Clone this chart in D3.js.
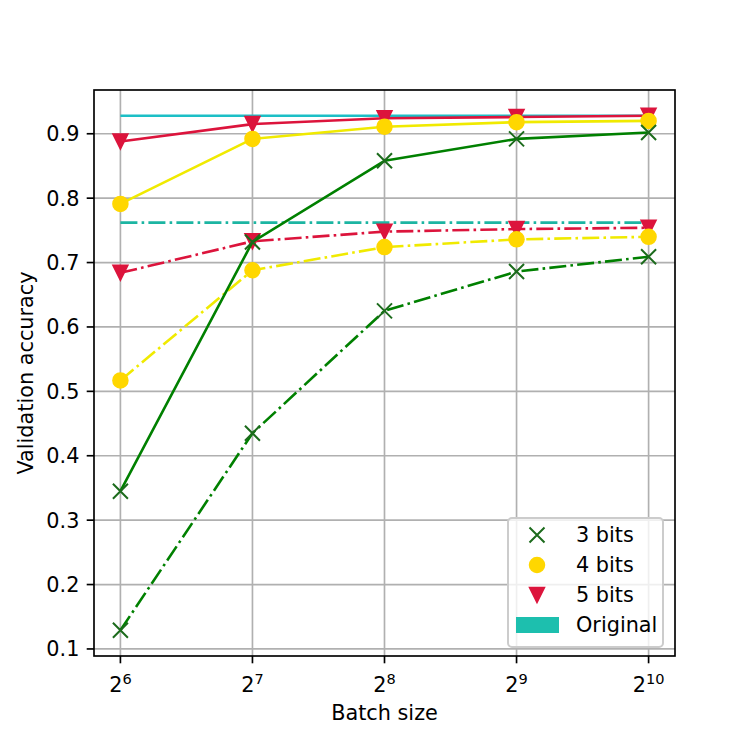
<!DOCTYPE html>
<html>
<head>
<meta charset="utf-8">
<script src="https://cdn.jsdelivr.net/npm/d3@7"></script>
<style>
  body { margin: 0; background: #fff; }
  svg { font-family: "DejaVu Sans", sans-serif; }
</style>
</head>
<body>
<svg id="chart" width="750" height="750"></svg>
<script>
// batch sizes as powers of two
const batchExp = [6, 7, 8, 9, 10];
const batchSizes = batchExp.map(e => Math.pow(2, e));

// validation accuracy, solid = first run, dash-dot = second run
const acc3Solid = [0.345, 0.732, 0.858, 0.892, 0.902];
const acc3Dash = [0.129, 0.435, 0.625, 0.686, 0.709];
const acc4Solid = [0.791, 0.892, 0.911, 0.918, 0.920];
const acc4Dash = [0.517, 0.688, 0.724, 0.736, 0.740];
const acc5Solid = [0.888, 0.915, 0.924, 0.926, 0.928];
const acc5Dash = [0.684, 0.733, 0.748, 0.752, 0.754];
const originalSolid = [0.928, 0.928];
const originalDash = [0.762, 0.762];
const originalX = [64, 1024];

const yTicks = [0.1, 0.2, 0.3, 0.4, 0.5, 0.6, 0.7, 0.8, 0.9];
const legendLabels = ['3 bits', '4 bits', '5 bits', 'Original'];

const margin = { left: 94, right: 675, top: 90, bottom: 656 };
const fs = 20.8;
const lw = 2.6;
const dashDot = '17,4.2,2.6,4.2';

const svg = d3.select('#chart');

// matplotlib style 5% margins
function padded(lo, hi) {
    const p = (hi - lo) * 0.05;
    return [lo - p, hi + p];
}
const allY = [].concat(acc3Solid, acc3Dash, acc4Solid, acc4Dash, acc5Solid, acc5Dash, originalSolid, originalDash);
const yDom = padded(d3.min(allY), d3.max(allY));
const xDomExp = padded(6, 10);

const x = d3.scaleLog().base(2)
    .domain([Math.pow(2, xDomExp[0]), Math.pow(2, xDomExp[1])])
    .range([margin.left, margin.right]);
const y = d3.scaleLinear().domain(yDom).range([margin.bottom, margin.top]);

// grid
const grid = svg.append('g');
grid.selectAll('line.gx').data(batchSizes).join('line')
    .attr('x1', d => x(d)).attr('x2', d => x(d))
    .attr('y1', margin.top).attr('y2', margin.bottom)
    .attr('stroke', '#b0b0b0').attr('stroke-width', 1.67);
grid.selectAll('line.gy').data(yTicks).join('line')
    .attr('y1', d => y(d)).attr('y2', d => y(d))
    .attr('x1', margin.left).attr('x2', margin.right)
    .attr('stroke', '#b0b0b0').attr('stroke-width', 1.67);

// series, drawn in the original plotting order
const series = [
    { xs: originalX, ys: originalSolid, color: '#1cbfc6', dash: null, marker: null },
    { xs: originalX, ys: originalDash, color: '#1cb5a2', dash: dashDot, marker: null },
    { xs: batchSizes, ys: acc5Solid, color: 'crimson', dash: null, marker: 'tri', mcolor: 'crimson' },
    { xs: batchSizes, ys: acc5Dash, color: 'crimson', dash: dashDot, marker: 'tri', mcolor: 'crimson' },
    { xs: batchSizes, ys: acc4Solid, color: '#f0ea00', dash: null, marker: 'circle', mcolor: 'gold' },
    { xs: batchSizes, ys: acc4Dash, color: '#f0ea00', dash: dashDot, marker: 'circle', mcolor: 'gold' },
    { xs: batchSizes, ys: acc3Solid, color: 'green', dash: null, marker: 'x', mcolor: '#1c6b1c' },
    { xs: batchSizes, ys: acc3Dash, color: 'green', dash: dashDot, marker: 'x', mcolor: '#1c6b1c' }
];

const line = d3.line().x(d => x(d[0])).y(d => y(d[1]));

function drawMarker(g, type, cx, cy, color) {
    const r = 7.5;
    if (type === 'x') {
        g.append('path')
            .attr('d', `M${cx - r},${cy - r}L${cx + r},${cy + r}M${cx - r},${cy + r}L${cx + r},${cy - r}`)
            .attr('stroke', color).attr('stroke-width', 2).attr('fill', 'none');
    } else if (type === 'circle') {
        g.append('circle').attr('cx', cx).attr('cy', cy).attr('r', r)
            .attr('fill', color).attr('stroke', color).attr('stroke-width', 1.5);
    } else if (type === 'tri') {
        g.append('path')
            .attr('d', `M${cx - r},${cy - r}L${cx + r},${cy - r}L${cx},${cy + r}Z`)
            .attr('fill', color).attr('stroke', color).attr('stroke-width', 1.5)
            .attr('stroke-linejoin', 'miter');
    }
}

const plot = svg.append('g');
series.forEach(s => {
    const pts = s.xs.map((v, i) => [v, s.ys[i]]);
    plot.append('path')
        .attr('d', line(pts))
        .attr('fill', 'none')
        .attr('stroke', s.color)
        .attr('stroke-width', lw)
        .attr('stroke-dasharray', s.dash)
        .attr('stroke-linejoin', 'round');
    if (s.marker) {
        const mg = plot.append('g');
        pts.forEach(p => drawMarker(mg, s.marker, x(p[0]), y(p[1]), s.mcolor));
    }
});

// spines
svg.append('rect')
    .attr('x', margin.left).attr('y', margin.top)
    .attr('width', margin.right - margin.left).attr('height', margin.bottom - margin.top)
    .attr('fill', 'none').attr('stroke', '#000').attr('stroke-width', 1.67);

// x ticks
const xt = svg.append('g').selectAll('g').data(batchExp).join('g')
    .attr('transform', d => `translate(${x(Math.pow(2, d))},${margin.bottom})`);
xt.append('line').attr('y1', 0).attr('y2', 7.3).attr('stroke', '#000').attr('stroke-width', 1.67);
const xl = xt.append('text')
    .attr('y', 36)
    .attr('text-anchor', 'middle')
    .attr('font-size', fs)
    .attr('fill', '#000');
xl.append('tspan').text('2');
xl.append('tspan').attr('font-size', fs * 0.7).attr('dy', -8).text(d => d);

// y ticks
const yt = svg.append('g').selectAll('g').data(yTicks).join('g')
    .attr('transform', d => `translate(${margin.left},${y(d)})`);
yt.append('line').attr('x1', 0).attr('x2', -7.3).attr('stroke', '#000').attr('stroke-width', 1.67);
yt.append('text')
    .attr('x', -14.6)
    .attr('dy', '0.36em')
    .attr('text-anchor', 'end')
    .attr('font-size', fs)
    .text(d => d.toFixed(1));

// axis labels
svg.append('text')
    .attr('x', (margin.left + margin.right) / 2)
    .attr('y', 720)
    .attr('text-anchor', 'middle')
    .attr('font-size', fs)
    .text('Batch size');
svg.append('text')
    .attr('transform', `translate(33,${(margin.top + margin.bottom) / 2}) rotate(-90)`)
    .attr('text-anchor', 'middle')
    .attr('font-size', fs)
    .text('Validation accuracy');

// legend
const leg = svg.append('g').attr('transform', 'translate(508,518)');
leg.append('rect')
    .attr('width', 155).attr('height', 129)
    .attr('rx', 4)
    .attr('fill', 'rgba(255,255,255,0.8)')
    .attr('stroke', '#cccccc').attr('stroke-width', 2);
const legMarkers = ['x', 'circle', 'tri', null];
const legColors = ['#1c6b1c', 'gold', 'crimson', '#1dbfae'];
legendLabels.forEach((lab, i) => {
    const cy = 17 + i * 30;
    if (legMarkers[i]) {
        drawMarker(leg, legMarkers[i], 29, cy, legColors[i]);
    } else {
        leg.append('rect').attr('x', 8).attr('y', cy - 8).attr('width', 43).attr('height', 16)
            .attr('fill', legColors[i]);
    }
    leg.append('text')
        .attr('x', 68).attr('y', cy)
        .attr('dy', '0.36em')
        .attr('font-size', fs)
        .text(lab);
});
</script>
</body>
</html>
